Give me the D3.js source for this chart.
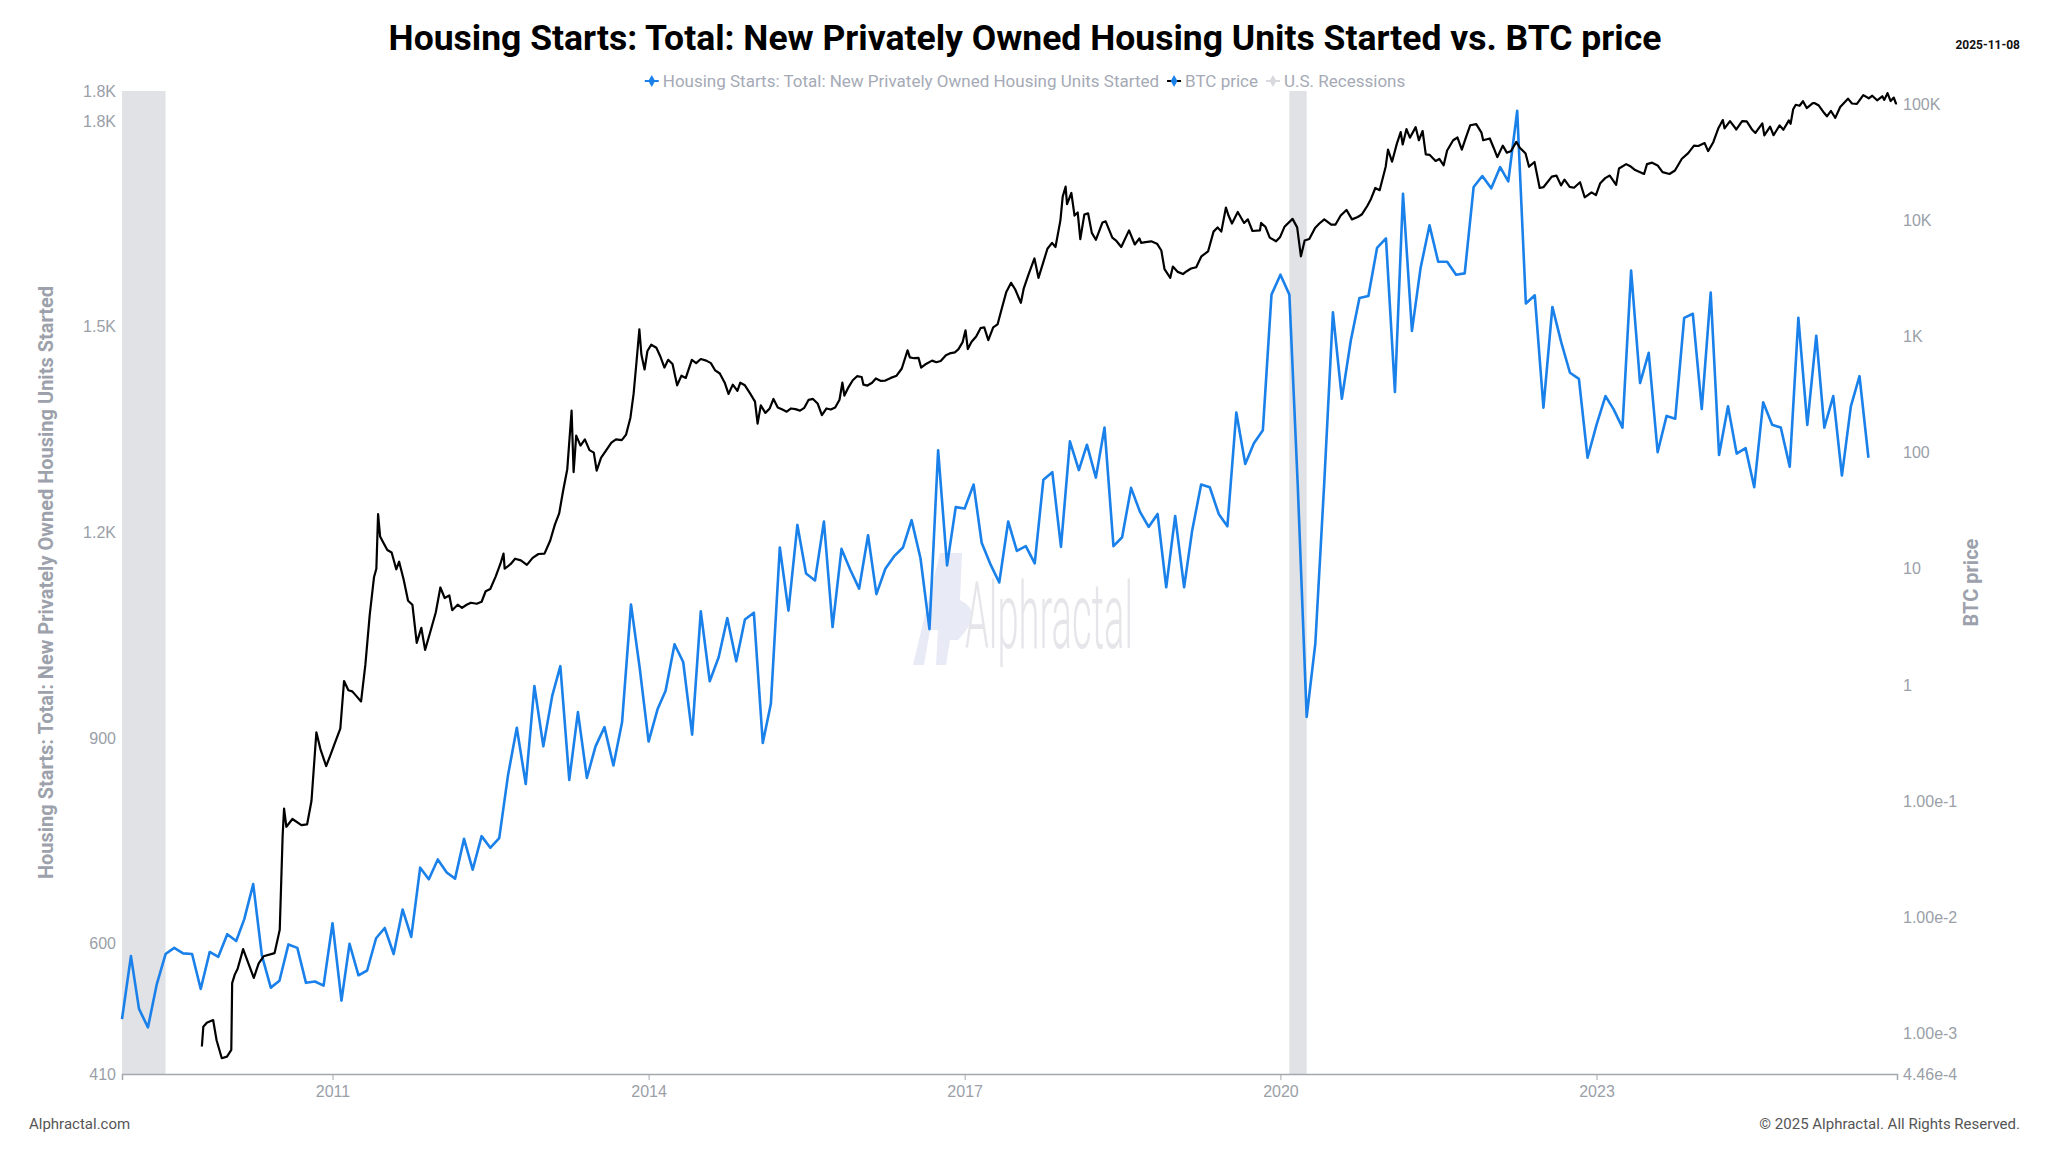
<!DOCTYPE html>
<html>
<head>
<meta charset="utf-8">
<style>
  body { margin: 0; background: #fff; }
  svg { display: block; font-family: Roboto, "Noto Sans", Arial, sans-serif; }
  .tick text { fill: #9aa0a8; font-size: 16px; }
</style>
</head>
<body>
<svg width="2048" height="1152"></svg>
<script src="https://d3js.org/d3.v7.min.js"></script>
<script>
// ---- data ----
// monthly housing starts (thousands, SAAR), first value = Jan 2009
const housingStart = "2009-01-01";
const housingValues = [
  490, 582, 505, 478, 540, 585, 594, 586, 585, 534, 588, 581,
  614, 604, 636, 687, 583, 536, 546, 599, 594, 543, 545, 539,
  630, 517, 600, 554, 561, 608, 623, 585, 650, 610, 711, 694,
  723, 704, 695, 753, 708, 757, 740, 754, 847, 915, 833, 976,
  888, 962, 1005, 839, 938, 842, 888, 916, 860, 923, 1095, 1003,
  895, 942, 969, 1037, 1011, 905, 1085, 983, 1018, 1075, 1012, 1073,
  1083, 893, 950, 1178, 1086, 1211, 1140, 1130, 1216, 1062, 1176, 1146,
  1118, 1196, 1110, 1147, 1165, 1178, 1218, 1162, 1059, 1320, 1152, 1237,
  1235, 1270, 1185, 1153, 1127, 1216, 1173, 1180, 1155, 1277, 1288, 1179,
  1333, 1291, 1328, 1280, 1353, 1180, 1193, 1265, 1230, 1208, 1227, 1120,
  1224, 1120, 1203, 1270, 1266, 1227, 1209, 1375, 1300, 1330, 1349, 1547,
  1576, 1547, 1269, 931, 1038, 1273, 1521, 1395, 1480, 1542, 1545, 1615,
  1629, 1405, 1694, 1494, 1586, 1648, 1595, 1595, 1576, 1578, 1704, 1720,
  1702, 1733, 1712, 1815, 1534, 1546, 1382, 1529, 1477, 1433, 1424, 1309,
  1357, 1399, 1380, 1353, 1582, 1418, 1462, 1317, 1370, 1366, 1513, 1519,
  1380, 1550, 1313, 1384, 1315, 1323, 1266, 1390, 1357, 1353, 1296, 1513,
  1357, 1487, 1353, 1399, 1283, 1384, 1428, 1309
];

// BTC price (USD), [date, price]
const btcSeries = [
  ["2009-10-05",0.00077],["2009-10-10",0.00114],["2009-10-22",0.00123],["2009-11-13",0.0013],
  ["2009-11-25",0.00087],["2009-12-13",0.00061],["2009-12-31",0.00063],["2010-01-15",0.00072],
  ["2010-01-18",0.0027],["2010-01-27",0.0032],["2010-02-06",0.0036],["2010-02-25",0.0053],
  ["2010-04-03",0.0030],["2010-04-20",0.0040],["2010-05-07",0.0046],["2010-06-14",0.0049],
  ["2010-07-02",0.0078],["2010-07-12",0.05],["2010-07-17",0.086],["2010-07-25",0.06],
  ["2010-08-15",0.07],["2010-09-15",0.062],["2010-10-05",0.063],["2010-10-20",0.10],
  ["2010-11-06",0.39],["2010-11-20",0.28],["2010-12-10",0.20],["2010-12-25",0.25],
  ["2011-01-10",0.32],["2011-01-28",0.42],["2011-02-10",1.08],["2011-02-25",0.90],
  ["2011-03-10",0.88],["2011-03-25",0.80],["2011-04-10",0.72],["2011-04-25",1.5],
  ["2011-05-10",4.0],["2011-05-25",8.5],["2011-06-02",10],["2011-06-08",29.6],
  ["2011-06-15",19],["2011-06-25",17],["2011-07-10",14.5],["2011-07-25",13.8],
  ["2011-08-10",9.9],["2011-08-20",11.5],["2011-09-05",8.0],["2011-09-20",5.3],
  ["2011-10-05",4.9],["2011-10-20",2.3],["2011-11-05",3.1],["2011-11-18",2.0],
  ["2011-12-05",2.8],["2011-12-25",4.2],["2012-01-10",6.9],["2012-01-25",5.6],
  ["2012-02-10",5.9],["2012-02-20",4.4],["2012-03-10",4.9],["2012-03-25",4.6],
  ["2012-04-10",4.9],["2012-04-25",5.1],["2012-05-15",5.0],["2012-06-01",5.2],
  ["2012-06-15",6.4],["2012-07-01",6.7],["2012-07-20",8.6],["2012-08-05",11.0],
  ["2012-08-16",13.5],["2012-08-20",10.0],["2012-09-10",11.0],["2012-09-25",12.2],
  ["2012-10-15",11.8],["2012-11-05",10.8],["2012-11-25",12.4],["2012-12-15",13.4],
  ["2013-01-05",13.5],["2013-01-25",17.5],["2013-02-10",24],["2013-02-25",30],
  ["2013-03-10",46],["2013-03-25",72],["2013-04-09",230],["2013-04-16",68],
  ["2013-04-25",140],["2013-05-10",115],["2013-05-25",130],["2013-06-10",105],
  ["2013-06-25",100],["2013-07-05",70],["2013-07-20",90],["2013-08-05",103],
  ["2013-08-25",122],["2013-09-10",130],["2013-09-30",128],["2013-10-15",143],
  ["2013-10-30",200],["2013-11-10",320],["2013-11-20",600],["2013-11-30",1150],
  ["2013-12-07",700],["2013-12-18",520],["2013-12-28",750],["2014-01-10",850],
  ["2014-01-28",800],["2014-02-10",680],["2014-02-25",540],["2014-03-10",630],
  ["2014-03-25",580],["2014-04-10",380],["2014-04-25",460],["2014-05-10",440],
  ["2014-05-31",630],["2014-06-15",590],["2014-07-01",640],["2014-07-20",620],
  ["2014-08-05",590],["2014-08-20",510],["2014-09-05",480],["2014-09-22",400],
  ["2014-10-05",320],["2014-10-20",385],["2014-11-05",340],["2014-11-15",400],
  ["2014-12-01",380],["2014-12-20",320],["2015-01-05",275],["2015-01-14",178],
  ["2015-01-25",255],["2015-02-10",220],["2015-02-25",240],["2015-03-10",290],
  ["2015-03-25",245],["2015-04-10",235],["2015-04-25",225],["2015-05-10",240],
  ["2015-05-25",237],["2015-06-10",230],["2015-06-25",243],["2015-07-10",285],
  ["2015-07-25",290],["2015-08-10",265],["2015-08-25",210],["2015-09-10",240],
  ["2015-09-25",235],["2015-10-10",245],["2015-10-25",285],["2015-11-04",400],
  ["2015-11-11",310],["2015-11-25",365],["2015-12-10",420],["2015-12-25",455],
  ["2016-01-10",448],["2016-01-16",385],["2016-01-30",378],["2016-02-15",400],
  ["2016-02-28",435],["2016-03-15",415],["2016-04-01",417],["2016-04-20",440],
  ["2016-05-10",460],["2016-05-28",530],["2016-06-17",760],["2016-06-25",660],
  ["2016-07-10",650],["2016-07-25",655],["2016-08-03",540],["2016-08-20",580],
  ["2016-09-10",620],["2016-09-25",600],["2016-10-10",615],["2016-10-28",690],
  ["2016-11-10",715],["2016-11-28",730],["2016-12-10",775],["2016-12-25",895],
  ["2017-01-04",1130],["2017-01-12",780],["2017-01-25",900],["2017-02-10",1000],
  ["2017-02-25",1180],["2017-03-10",1200],["2017-03-24",930],["2017-04-10",1200],
  ["2017-04-25",1270],["2017-05-10",1750],["2017-05-25",2400],["2017-06-11",2900],
  ["2017-06-25",2550],["2017-07-15",1950],["2017-07-25",2600],["2017-08-10",3400],
  ["2017-08-31",4700],["2017-09-14",3200],["2017-09-30",4300],["2017-10-15",5700],
  ["2017-10-31",6400],["2017-11-12",5900],["2017-11-29",10000],["2017-12-07",16000],
  ["2017-12-17",19500],["2017-12-22",13800],["2018-01-06",17200],["2018-01-17",11000],
  ["2018-01-28",11700],["2018-02-06",6900],["2018-02-20",11200],["2018-03-05",11500],
  ["2018-03-18",7800],["2018-04-01",6800],["2018-04-24",9600],["2018-05-05",9800],
  ["2018-05-28",7100],["2018-06-10",6700],["2018-06-28",5900],["2018-07-25",8200],
  ["2018-08-14",6200],["2018-08-30",7000],["2018-09-05",6400],["2018-09-20",6500],
  ["2018-10-10",6600],["2018-10-30",6300],["2018-11-14",5500],["2018-11-25",3800],
  ["2018-12-15",3200],["2018-12-24",4000],["2019-01-10",3600],["2019-01-28",3450],
  ["2019-02-10",3650],["2019-02-25",3850],["2019-03-15",3950],["2019-04-02",4900],
  ["2019-04-25",5400],["2019-05-14",8000],["2019-05-28",8700],["2019-06-10",8000],
  ["2019-06-26",12900],["2019-07-05",11000],["2019-07-17",9400],["2019-08-06",11800],
  ["2019-08-28",9500],["2019-09-10",10200],["2019-09-26",8100],["2019-10-22",8200],
  ["2019-10-26",9500],["2019-11-10",8800],["2019-11-25",7100],["2019-12-17",6600],
  ["2019-12-31",7200],["2020-01-15",8800],["2020-02-12",10300],["2020-02-28",8700],
  ["2020-03-12",4900],["2020-03-25",6700],["2020-04-10",6900],["2020-04-30",8600],
  ["2020-05-15",9400],["2020-06-01",10200],["2020-06-25",9200],["2020-07-10",9200],
  ["2020-07-28",11000],["2020-08-17",12300],["2020-09-05",10200],["2020-09-25",10700],
  ["2020-10-10",11300],["2020-10-28",13300],["2020-11-10",15300],["2020-11-25",19000],
  ["2020-12-10",18200],["2020-12-31",29000],["2021-01-08",40700],["2021-01-22",32000],
  ["2021-02-08",46000],["2021-02-21",57500],["2021-02-28",45000],["2021-03-13",61000],
  ["2021-03-25",51500],["2021-04-14",63500],["2021-04-25",49000],["2021-05-08",58800],
  ["2021-05-19",37000],["2021-06-01",36700],["2021-06-22",32500],["2021-07-05",33800],
  ["2021-07-20",29800],["2021-08-01",40000],["2021-08-22",49000],["2021-09-06",51700],
  ["2021-09-21",40700],["2021-10-05",51500],["2021-10-20",65900],["2021-11-10",67500],
  ["2021-11-28",57000],["2021-12-04",49000],["2021-12-27",50700],["2022-01-10",41800],
  ["2022-01-22",35000],["2022-02-10",44000],["2022-02-24",38300],["2022-03-10",39400],
  ["2022-03-29",47400],["2022-04-10",42200],["2022-04-30",37700],["2022-05-12",29000],
  ["2022-05-31",31800],["2022-06-18",19000],["2022-07-01",19300],["2022-07-30",23800],
  ["2022-08-15",24300],["2022-08-31",20000],["2022-09-12",22400],["2022-09-30",19400],
  ["2022-10-15",19100],["2022-11-05",21300],["2022-11-21",15800],["2022-12-15",17400],
  ["2022-12-30",16500],["2023-01-14",20900],["2023-01-31",23100],["2023-02-16",24300],
  ["2023-03-10",20200],["2023-03-20",28000],["2023-04-14",30500],["2023-04-28",29300],
  ["2023-05-15",27100],["2023-06-15",25100],["2023-06-25",30500],["2023-07-13",31400],
  ["2023-08-01",29700],["2023-08-18",26000],["2023-09-11",25100],["2023-09-30",26900],
  ["2023-10-24",33900],["2023-11-15",37900],["2023-12-05",44000],["2023-12-20",43700],
  ["2024-01-11",46300],["2024-01-23",39500],["2024-02-10",47100],["2024-02-28",62500],
  ["2024-03-14",73100],["2024-03-20",62000],["2024-04-08",71600],["2024-04-30",60600],
  ["2024-05-20",71400],["2024-06-05",71100],["2024-06-24",60200],["2024-07-05",56600],
  ["2024-07-29",68300],["2024-08-05",54000],["2024-08-25",64100],["2024-09-06",54100],
  ["2024-09-27",65800],["2024-10-10",60300],["2024-10-29",72600],["2024-11-04",67800],
  ["2024-11-13",90500],["2024-11-22",98900],["2024-12-05",97000],["2024-12-17",106100],
  ["2024-12-30",92700],["2025-01-20",102300],["2025-01-27",102100],["2025-02-10",97400],
  ["2025-02-28",84400],["2025-03-10",78500],["2025-03-24",87500],["2025-04-08",76300],
  ["2025-04-25",94600],["2025-05-22",111700],["2025-06-05",101500],["2025-06-22",100900],
  ["2025-07-14",119900],["2025-08-02",112500],["2025-08-14",118300],["2025-08-31",108200],
  ["2025-09-18",117100],["2025-09-25",109000],["2025-10-06",124700],["2025-10-17",106500],
  ["2025-10-28",114100],["2025-11-04",101600],["2025-11-08",102300]
];

const recessions = [["2009-01-01", "2009-06-01"], ["2020-02-01", "2020-04-01"]];

const leftTicks = [410, 600, 900, 1200, 1500, 1800, 1844];
const rightTicks = [4.46e-4, 1e-3, 1e-2, 1e-1, 1, 10, 100, 1000, 1e4, 1e5];
const yearTicks = [2011, 2014, 2017, 2020, 2023];

const titleText = "Housing Starts: Total: New Privately Owned Housing Units Started vs. BTC price";
const housingName = "Housing Starts: Total: New Privately Owned Housing Units Started";
const btcName = "BTC price";
const recessionName = "U.S. Recessions";

// ---- layout ----
const svg = d3.select("svg");
const plot = { left: 122, right: 1897, top: 91, bottom: 1074 };
const blue = "#1a80ea";
const parse = d3.timeParse("%Y-%m-%d");

let x = d3.scaleTime()
  .domain([parse("2009-01-01"), parse("2025-11-08")])
  .range([plot.left, plot.right]);
let yL = d3.scaleLinear().domain([410, 1844]).range([plot.bottom, plot.top]);
let yR = d3.scaleLog().domain([4.46e-4, 1.3e5]).range([plot.bottom, plot.top]);

let t0 = parse(housingStart);
let housing = housingValues.map((v, i) => ({ date: d3.timeMonth.offset(t0, i), value: v }));
let btc = btcSeries.map(d => ({ date: parse(d[0]), value: d[1] }));

// recession bands
svg.append("g")
  .selectAll("rect")
  .data(recessions)
  .join("rect")
  .attr("x", d => x(parse(d[0])))
  .attr("width", d => x(parse(d[1])) - x(parse(d[0])))
  .attr("y", plot.top)
  .attr("height", plot.bottom - plot.top)
  .attr("fill", "#e1e2e6");

// watermark (logo drawn as a shape, word as text)
let wm = svg.append("g").attr("opacity", 0.9);
wm.append("path")
  .attr("d", "M913,665 L940,553 L962,553 L960,600 Q985,612 958,640 L950,640 L946,665 L936,665 L938,630 L930,630 L924,665 Z")
  .attr("fill", "#e6e8f6");
wm.append("text")
  .attr("x", 965).attr("y", 648)
  .attr("textLength", 168).attr("lengthAdjust", "spacingAndGlyphs")
  .style("font-size", "92px").style("font-weight", 300)
  .attr("fill", "#e4e4e8")
  .text("Alphractal");

// axes
let fmtL = v => v >= 1000 ? (v / 1000).toFixed(1) + "K" : String(v);
let fmtR = v => v < 1 ? d3.format(".2e")(v) : v >= 1000 ? (v / 1000) + "K" : String(v);

let gL = svg.append("g")
  .attr("transform", `translate(${plot.left},0)`)
  .call(d3.axisLeft(yL).tickValues(leftTicks).tickFormat(fmtL).tickSize(0).tickPadding(6));
gL.select(".domain").remove();

let gR = svg.append("g")
  .attr("transform", `translate(${plot.right},0)`)
  .call(d3.axisRight(yR).tickValues(rightTicks).tickFormat(fmtR).tickSize(0).tickPadding(6));
gR.select(".domain").remove();

let gX = svg.append("g")
  .attr("transform", `translate(0,${plot.bottom})`)
  .call(d3.axisBottom(x)
    .tickValues(yearTicks.map(y => new Date(y, 0, 1)))
    .tickFormat(d3.timeFormat("%Y"))
    .tickSizeOuter(0).tickSize(6).tickPadding(6));
gX.select(".domain").attr("stroke", "#a3a7ae").attr("stroke-width", 1.5);
gX.selectAll(".tick line").attr("stroke", "#a3a7ae");

// lines
svg.append("path")
  .datum(housing)
  .attr("fill", "none")
  .attr("stroke", blue)
  .attr("stroke-width", 2.6)
  .attr("stroke-linejoin", "round")
  .attr("d", d3.line().x(d => x(d.date)).y(d => yL(d.value)));

svg.append("path")
  .datum(btc)
  .attr("fill", "none")
  .attr("stroke", "#000")
  .attr("stroke-width", 2.2)
  .attr("stroke-linejoin", "round")
  .attr("d", d3.line().x(d => x(d.date)).y(d => yR(d.value)));

// axis titles
svg.append("text")
  .attr("transform", `translate(53,${(plot.top + plot.bottom) / 2}) rotate(-90)`)
  .attr("text-anchor", "middle")
  .style("font-size", "20px").style("font-weight", 700)
  .attr("fill", "#9ca1ab")
  .text(housingName);

svg.append("text")
  .attr("transform", `translate(1978,${(plot.top + plot.bottom) / 2}) rotate(-90)`)
  .attr("text-anchor", "middle")
  .style("font-size", "20px").style("font-weight", 700)
  .attr("fill", "#9ca1ab")
  .text(btcName);

// title + date
svg.append("text")
  .attr("x", 1025).attr("y", 50)
  .attr("text-anchor", "middle")
  .style("font-size", "35.5px").style("font-weight", 700)
  .attr("fill", "#000")
  .text(titleText);

svg.append("text")
  .attr("x", 2020).attr("y", 49)
  .attr("text-anchor", "end")
  .style("font-size", "12px").style("font-weight", 700)
  .attr("fill", "#111")
  .text("2025-11-08");

// legend
let legendItems = [
  { name: housingName, line: blue, mark: blue },
  { name: btcName, line: "#000", mark: blue },
  { name: recessionName, line: "#d8d9dd", mark: "#d8d9dd" }
];
let legend = svg.append("g");
let lx = 0;
legendItems.forEach(item => {
  let g = legend.append("g").attr("transform", `translate(${lx},0)`);
  g.append("line").attr("x1", 0).attr("x2", 14).attr("y1", 0).attr("y2", 0)
    .attr("stroke", item.line).attr("stroke-width", 2);
  g.append("path").attr("d", d3.symbol(d3.symbolDiamond, 40)())
    .attr("transform", "translate(7,0)").attr("fill", item.mark);
  let t = g.append("text").attr("x", 18).attr("y", 6)
    .style("font-size", "17px").attr("fill", "#a5aab6").text(item.name);
  lx += 18 + t.node().getComputedTextLength() + 8;
});
legend.attr("transform", `translate(${1025 - (lx - 8) / 2},81)`);

// footer
svg.append("text")
  .attr("x", 29).attr("y", 1129)
  .style("font-size", "15px").attr("fill", "#555")
  .text("Alphractal.com");
svg.append("text")
  .attr("x", 2020).attr("y", 1129)
  .attr("text-anchor", "end")
  .style("font-size", "15px").attr("fill", "#555")
  .text("© 2025 Alphractal. All Rights Reserved.");
</script>
</body>
</html>
